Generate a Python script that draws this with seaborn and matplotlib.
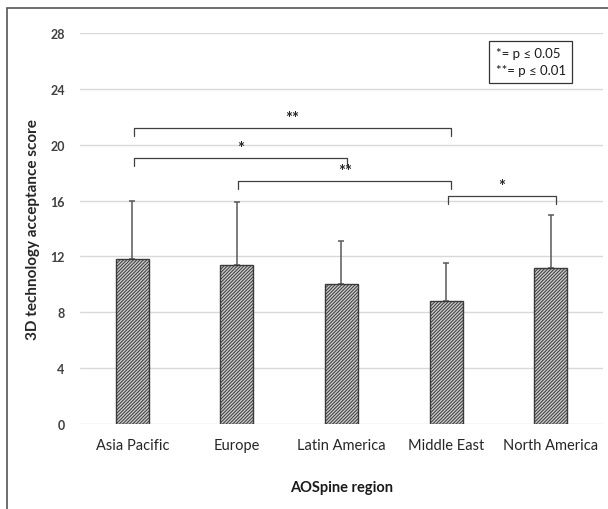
import matplotlib
matplotlib.use("Agg")
import matplotlib.pyplot as plt
import seaborn as sns
import pandas as pd
from matplotlib.patches import Rectangle

regions = ["Asia Pacific", "Europe", "Latin America", "Middle East", "North America"]
mean_scores = [11.8, 11.4, 10.0, 8.8, 11.2]
sd_scores = [4.2, 4.5, 3.1, 2.7, 3.8]
y_ticks = [0, 4, 8, 12, 16, 20, 24, 28]

# significance brackets: (left index, right index, bracket height, label)
brackets = [
    (0, 3, 21.2, "**"),
    (0, 2, 19.05, "*"),
    (1, 3, 17.4, "**"),
    (3, 4, 16.3, "*"),
]

sns.set_theme(style="white")
plt.rcParams["font.family"] = ["Lato", "DejaVu Sans"]
plt.rcParams["hatch.linewidth"] = 0.7
plt.rcParams["hatch.color"] = "#3a3a3a"

df = pd.DataFrame({"region": regions, "score": mean_scores})

fig = plt.figure(figsize=(6.08, 5.10), dpi=100)
ax = fig.add_axes([0.1316, 0.1667, 0.860, 0.7667])

sns.barplot(data=df, x="region", y="score", ax=ax, color="#c8c8c8",
            width=0.316, errorbar=None, edgecolor="#3a3a3a", linewidth=1.0,
            zorder=3)
for p in ax.patches:
    p.set_hatch("//////////")

ax.errorbar(range(len(regions)), mean_scores,
            yerr=[[0] * len(regions), sd_scores], fmt="none",
            ecolor="#595959", elinewidth=1.1, capsize=2, capthick=1.1, zorder=2)

ax.set_ylim(0, 28)
ax.set_xlim(-0.5, len(regions) - 0.5)
ax.set_yticks(y_ticks)
ax.yaxis.grid(True, color="#d9d9d9", linewidth=1.0, zorder=0)
ax.set_axisbelow(True)
for s in ax.spines.values():
    s.set_visible(False)
ax.tick_params(axis="y", length=0, pad=11, labelsize=9, labelcolor="#404040")
for lab in ax.get_yticklabels():
    lab.set_fontweight("bold")
ax.tick_params(axis="x", length=0, pad=10, labelsize=10.5, labelcolor="#262626")

ax.set_xlabel("AOSpine region", fontsize=10.5, fontweight="bold", labelpad=20, color="#1a1a1a")
ax.set_ylabel("3D technology acceptance score", fontsize=11, fontweight="bold",
              labelpad=7, color="#262626")

# significance brackets
for i0, i1, h, lab in brackets:
    x0, x1 = i0 + 0.015, i1 + 0.05
    ax.plot([x0, x0, x1, x1], [h - 0.55, h, h, h - 0.55], color="#404040",
            linewidth=0.9, zorder=4, clip_on=False)
    ax.text((x0 + x1) / 2, h + 0.15, lab, ha="center", va="bottom",
            fontsize=12, fontweight="bold", color="#262626")

# legend box for significance levels
fig.text(0.815, 0.905, "*= p \u2264 0.05\n**= p \u2264 0.01", fontsize=9.5,
         va="top", ha="left", linespacing=1.45, color="#1a1a1a",
         bbox=dict(boxstyle="square,pad=0.5", facecolor="white",
                   edgecolor="#333333", linewidth=0.9))

# outer frame
fig.patches.append(Rectangle((7 / 608, -0.05), 1.0, 1.0 - 9 / 510 + 0.05,
                             transform=fig.transFigure, fill=False,
                             edgecolor="#555555", linewidth=1.2))

fig.savefig("out.png", dpi=100)
